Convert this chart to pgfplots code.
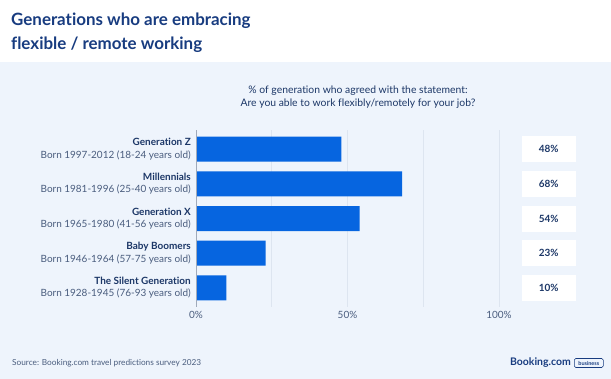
\documentclass[border=0pt]{standalone}
\usepackage{pgfplots}
\pgfplotsset{compat=1.18}
\usepackage{fontspec}
\setmainfont{Lato}[Ligatures=NoCommon]
\definecolor{bg}{HTML}{EEF4FC}
\definecolor{titlec}{HTML}{183C80}
\definecolor{navy}{HTML}{1C3767}
\definecolor{subc}{HTML}{4A5D7E}
\definecolor{barc}{HTML}{0665E0}
\definecolor{gridc}{HTML}{DDE5F0}
\definecolor{axc}{HTML}{A0AABA}
\begin{document}
\begin{tikzpicture}
\path[use as bounding box] (0bp,0bp) rectangle (611bp,379bp);
\fill[white] (0bp,0bp) rectangle (611bp,379bp);
\fill[bg] (0bp,0bp) rectangle (611bp,317bp);
% title
\node[anchor=west, align=left, inner sep=0pt, text=titlec,
      font=\fontsize{17}{24}\selectfont\bfseries] at (11bp,346bp) {Generations who are embracing\\flexible / remote working};
% subtitle
\node[anchor=center, align=center, inner sep=0pt, text=navy,
      font=\fontsize{10.4}{12.5}\selectfont] at (358bp,282bp) {\% of generation who agreed with the statement:\\Are you able to work flexibly/remotely for your job?};
\begin{axis}[
  at={(196bp,72bp)}, anchor=south west,
  scale only axis, width=303bp, height=177bp,
  xmin=0, xmax=100,
  ymin=-0.55, ymax=4.55, y dir=reverse,
  axis line style={draw=none},
  axis x line*=bottom,
  /pgf/number format/assume math mode=true,
  xtick={0,50,100},
  xticklabels={0\%,50\%,100\%},
  minor xtick={25,75},
  xmajorgrids, xminorgrids,
  grid style={gridc, line width=0.8pt},
  minor grid style={gridc, line width=0.8pt},
  major tick length=0pt, minor tick length=0pt,
  xticklabel style={text=subc, font=\fontsize{10}{11}\selectfont, yshift=-1bp},
  ytick={0,1,2,3,4},
  yticklabels={
    {{\bfseries\color{navy}Generation Z}\\{\color{subc}Born 1997-2012 (18-24 years old)}},
    {{\bfseries\color{navy}Millennials}\\{\color{subc}Born 1981-1996 (25-40 years old)}},
    {{\bfseries\color{navy}Generation X}\\{\color{subc}Born 1965-1980 (41-56 years old)}},
    {{\bfseries\color{navy}Baby Boomers}\\{\color{subc}Born 1946-1964 (57-75 years old)}},
    {{\bfseries\color{navy}The Silent Generation}\\{\color{subc}Born 1928-1945 (76-93 years old)}}},
  yticklabel style={align=right, anchor=east, inner sep=0pt, xshift=-5bp,
    font=\fontsize{10}{12.5}\selectfont},
  clip=false,
]
\addplot[xbar, bar width=25bp, fill=barc, draw=none, bar shift=0pt]
  coordinates {(48,0) (68,1) (54,2) (23,3) (10,4)};
\addplot[draw=none, mark=none,
  nodes near coords={\pgfmathprintnumber{\pgfplotspointmeta}\%},
  point meta=explicit,
  nodes near coords style={fill=white, text=navy, minimum width=54bp, minimum height=26bp,
     inner sep=0pt, anchor=center, font=\fontsize{10}{11}\selectfont\bfseries}]
  table[meta=v] {
x y v
116.4 0 48
116.4 1 68
116.4 2 54
116.4 3 23
116.4 4 10
};
\draw[axc, line width=0.8pt] (axis cs:0,-0.55) -- (axis cs:0,4.55);
\end{axis}
% footer
\node[anchor=west, inner sep=0pt, text=subc, font=\fontsize{8.3}{9}\selectfont] at (12bp,16bp) {Source: Booking.com travel predictions survey 2023};
\node[anchor=east, inner sep=0pt, text=titlec, font=\fontsize{10.5}{12}\selectfont\bfseries] at (571bp,16bp) {Booking.com};
\node[anchor=west, draw=titlec, rounded corners=1.5bp, line width=0.6pt, inner sep=1.2bp, text=titlec,
      font=\fontsize{5.5}{6}\selectfont\bfseries, minimum width=29bp, minimum height=9bp] at (574bp,16bp) {business};
\end{tikzpicture}
\end{document}
